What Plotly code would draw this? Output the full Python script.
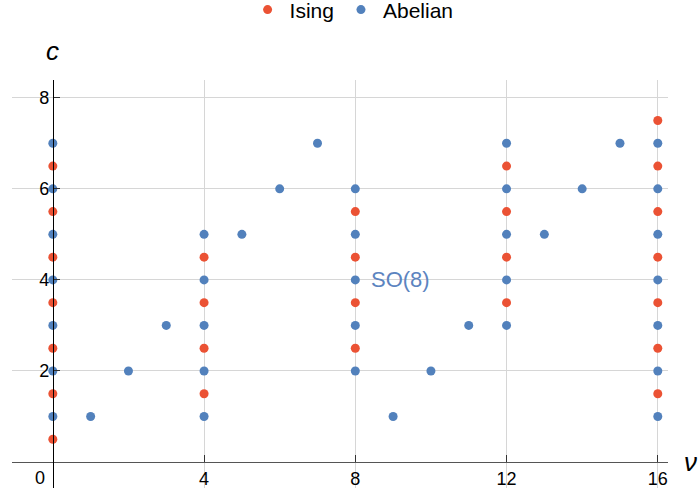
import plotly.graph_objects as go

# Ising points (nu, c)
ising_nu = [0]*7 + [4]*4 + [8]*4 + [12]*4 + [16]*7
ising_c = [0.5, 1.5, 2.5, 3.5, 4.5, 5.5, 6.5,
           1.5, 2.5, 3.5, 4.5,
           2.5, 3.5, 4.5, 5.5,
           3.5, 4.5, 5.5, 6.5,
           1.5, 2.5, 3.5, 4.5, 5.5, 6.5, 7.5]

# Abelian points (nu, c)
abel_nu = ([0]*7 + [1, 2, 3] + [4]*5 + [5, 6, 7] + [8]*5 + [9, 10, 11]
           + [12]*5 + [13, 14, 15] + [16]*7)
abel_c = ([1, 2, 3, 4, 5, 6, 7] + [1, 2, 3] + [1, 2, 3, 4, 5] + [5, 6, 7]
          + [2, 3, 4, 5, 6] + [1, 2, 3] + [3, 4, 5, 6, 7] + [5, 6, 7]
          + [1, 2, 3, 4, 5, 6, 7])

x_ticks = [4, 8, 12, 16]
y_ticks = [2, 4, 6, 8]

RED = "#EB5234"
BLUE = "#5281BC"

x_range = [-1.08, 16.27]
y_range = [-0.57, 8.39]

fig = go.Figure()
fig.add_trace(go.Scatter(x=ising_nu, y=ising_c, mode="markers", name="Ising",
                         marker=dict(color=RED, size=9)))
fig.add_trace(go.Scatter(x=abel_nu, y=abel_c, mode="markers", name="Abelian",
                         marker=dict(color=BLUE, size=9)))

ypos = (0 - y_range[0]) / (y_range[1] - y_range[0])
xpos = (0 - x_range[0]) / (x_range[1] - x_range[0])

fig.update_layout(
    width=700, height=498,
    margin=dict(l=12, r=32, t=80, b=10, autoexpand=False),
    plot_bgcolor="white", paper_bgcolor="white",
    font=dict(family="Liberation Sans, Arial, sans-serif", size=18, color="black"),
    showlegend=True,
    legend=dict(orientation="h", xref="container", x=0.503, xanchor="center",
                yref="container", y=0.98, yanchor="middle", font=dict(size=21),
                itemwidth=34, tracegroupgap=0, borderwidth=0),
    xaxis=dict(range=x_range, tickvals=x_ticks, showgrid=True, gridcolor="#d6d6d6",
               gridwidth=1, zeroline=False, anchor="free", position=ypos,
               showline=True, linecolor="#555555", linewidth=1.3, automargin=False,
               ticks="inside", ticklen=7, tickcolor="#333333"),
    yaxis=dict(range=y_range, tickvals=y_ticks, showgrid=True, gridcolor="#d6d6d6",
               gridwidth=1, zeroline=False, anchor="free", position=xpos,
               showline=True, linecolor="black", linewidth=1, automargin=False,
               ticks="inside", ticklen=6, tickcolor="#333333"),
)

fig.add_annotation(x=0, y=0, xref="x", yref="y", text="0", showarrow=False,
                   xanchor="right", yanchor="top", xshift=-6, yshift=-4,
                   font=dict(size=18))
fig.add_annotation(x=8.35, y=4, xref="x", yref="y", text="SO(8)", showarrow=False,
                   xanchor="left", yanchor="middle", font=dict(size=22, color="#5C84C0"))
fig.add_annotation(x=0, y=1, xref="x", yref="paper", text="<i>c</i>", showarrow=False,
                   xanchor="center", yanchor="bottom", yshift=12, font=dict(size=26))
fig.add_annotation(x=1, y=0, xref="paper", yref="y", text="<i>ν</i>", showarrow=False,
                   xanchor="left", yanchor="middle", xshift=14, font=dict(size=26))

fig.write_html("out.html", config={"displayModeBar": False},
               post_script="document.body.style.margin='0';document.body.style.padding='0';")
